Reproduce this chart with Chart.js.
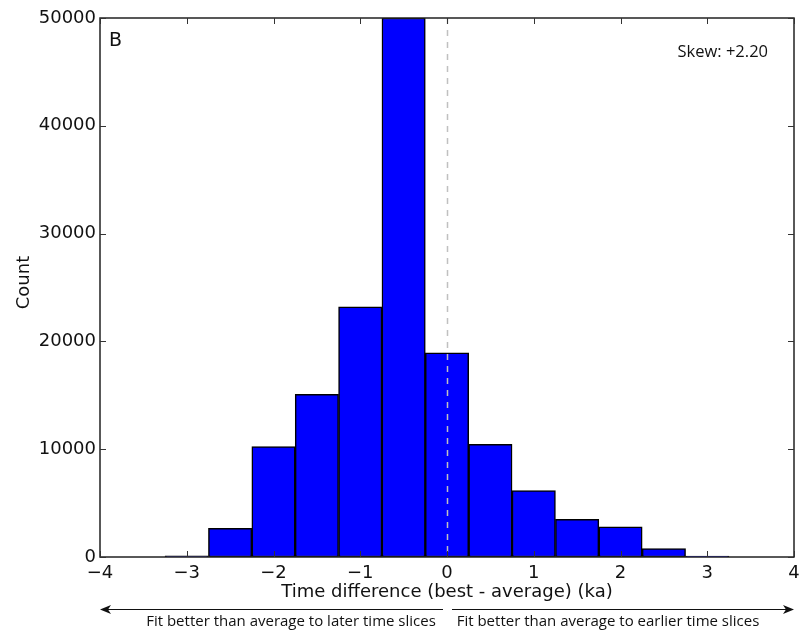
<!DOCTYPE html>
<html>
<head>
<meta charset="utf-8">
<script src="https://cdn.jsdelivr.net/npm/chart.js@4"></script>
<style>
  body { margin: 0; background: #fff; }
  #wrap { width: 802px; height: 634px; position: relative; }
</style>
</head>
<body>
<div id="wrap"><canvas id="hist"></canvas></div>
<script>
// histogram bins (centres, ka) and counts
const binCenters = [-3, -2.5, -2, -1.5, -1, -0.5, 0, 0.5, 1, 1.5, 2, 2.5, 3];
const counts = [100, 2650, 10250, 15100, 23200, 50000, 18950, 10450, 6150, 3500, 2800, 780, 80];
const xTitle = 'Time difference (best - average) (ka)';
const yTitle = 'Count';
const panelLabel = 'B';
const skewLabel = 'Skew: +2.20';
const leftNote = 'Fit better than average to later time slices';
const rightNote = 'Fit better than average to earlier time slices';

const tickFont = '18px "DejaVu Sans"';
const noteFont = '"Open Sans"';

const fmt = v => String(v).replace('-', '\u2212');

// inward ticks on all four sides, frame, dashed zero line and notes
const extras = {
  id: 'extras',
  afterDatasetsDraw(chart) {
    const { ctx, chartArea: a, scales: { x, y } } = chart;
    ctx.save();
    // dashed line at zero
    ctx.strokeStyle = '#c0c0c0';
    ctx.lineWidth = 1.5;
    ctx.setLineDash([6, 6]);
    const x0 = Math.round(x.getPixelForValue(0)) + 0.5;
    ctx.beginPath();
    ctx.moveTo(x0, a.top);
    ctx.lineTo(x0, a.bottom);
    ctx.stroke();
    ctx.setLineDash([]);

    // frame
    ctx.strokeStyle = '#222';
    ctx.lineWidth = 1.5;
    ctx.strokeRect(a.left, a.top, a.right - a.left, a.bottom - a.top);

    // ticks
    ctx.lineWidth = 1;
    ctx.strokeStyle = '#333';
    ctx.beginPath();
    x.ticks.forEach(t => {
      const px = Math.round(x.getPixelForValue(t.value)) + 0.5;
      ctx.moveTo(px, a.bottom); ctx.lineTo(px, a.bottom - 6);
      ctx.moveTo(px, a.top); ctx.lineTo(px, a.top + 6);
    });
    y.ticks.forEach(t => {
      const py = Math.round(y.getPixelForValue(t.value)) + 0.5;
      ctx.moveTo(a.left, py); ctx.lineTo(a.left + 6, py);
      ctx.moveTo(a.right, py); ctx.lineTo(a.right - 6, py);
    });
    ctx.stroke();
    ctx.restore();
  },
  afterDraw(chart) {
    const { ctx, chartArea: a, scales: { x } } = chart;
    ctx.save();
    ctx.fillStyle = '#111';

    // panel letter
    ctx.font = '19px "DejaVu Sans"';
    ctx.textAlign = 'left';
    ctx.textBaseline = 'alphabetic';
    ctx.fillText(panelLabel, 109, 46);

    // skew
    ctx.font = '16.5px ' + noteFont;
    ctx.textAlign = 'right';
    ctx.fillText(skewLabel, 768, 57);

    // axis titles
    ctx.font = tickFont;
    ctx.textAlign = 'center';
    ctx.textBaseline = 'middle';
    ctx.fillText(xTitle, (a.left + a.right) / 2, 592);
    ctx.save();
    ctx.translate(24, (a.top + a.bottom) / 2 - 5);
    ctx.rotate(-Math.PI / 2);
    ctx.fillText(yTitle, 0, 0);
    ctx.restore();

    // arrows
    const ay = 609.5;
    const xl = x.getPixelForValue(-4), xr = x.getPixelForValue(4);
    ctx.strokeStyle = '#111';
    ctx.lineWidth = 1;
    ctx.beginPath();
    ctx.moveTo(443, ay); ctx.lineTo(xl + 6, ay);
    ctx.moveTo(452, ay); ctx.lineTo(xr - 6, ay);
    ctx.stroke();
    ctx.beginPath();
    ctx.moveTo(xl, ay); ctx.lineTo(xl + 11, ay - 4.5); ctx.lineTo(xl + 8, ay); ctx.lineTo(xl + 11, ay + 4.5); ctx.closePath();
    ctx.moveTo(xr, ay); ctx.lineTo(xr - 11, ay - 4.5); ctx.lineTo(xr - 8, ay); ctx.lineTo(xr - 11, ay + 4.5); ctx.closePath();
    ctx.fill();

    // notes under arrows
    ctx.font = '15px ' + noteFont;
    ctx.textBaseline = 'middle';
    ctx.fillText(leftNote, 291, 622);
    ctx.fillText(rightNote, 608, 622);
    ctx.restore();
  }
};

new Chart(document.getElementById('hist'), {
  type: 'bar',
  data: {
    datasets: [{
      data: binCenters.map((c, i) => ({ x: c, y: counts[i] })),
      backgroundColor: '#0000ff',
      borderColor: '#000',
      borderWidth: 1.5,
      borderSkipped: false,
      barPercentage: 1,
      categoryPercentage: 1
    }]
  },
  options: {
    responsive: true,
    maintainAspectRatio: false,
    animation: false,
    layout: { padding: { top: 18, right: 8, left: 0, bottom: 0 } },
    plugins: { legend: { display: false }, tooltip: { enabled: false } },
    scales: {
      x: {
        type: 'linear',
        min: -4, max: 4,
        offset: false,
        grid: { display: false, drawTicks: false },
        border: { display: false },
        ticks: {
          stepSize: 1,
          padding: 6,
          color: '#111',
          font: { family: 'DejaVu Sans', size: 18 },
          maxRotation: 0,
          callback: v => fmt(v)
        },
        afterFit: s => { s.height = 77; s.paddingLeft = 0; s.paddingRight = 0; }
      },
      y: {
        min: 0, max: 50000,
        grid: { display: false, drawTicks: false },
        border: { display: false },
        ticks: {
          stepSize: 10000,
          padding: 4,
          color: '#111',
          font: { family: 'DejaVu Sans', size: 18 },
          callback: v => fmt(v)
        },
        afterFit: s => { s.width = 100; s.paddingTop = 0; s.paddingBottom = 0; }
      }
    }
  },
  plugins: [extras]
});
</script>
</body>
</html>
